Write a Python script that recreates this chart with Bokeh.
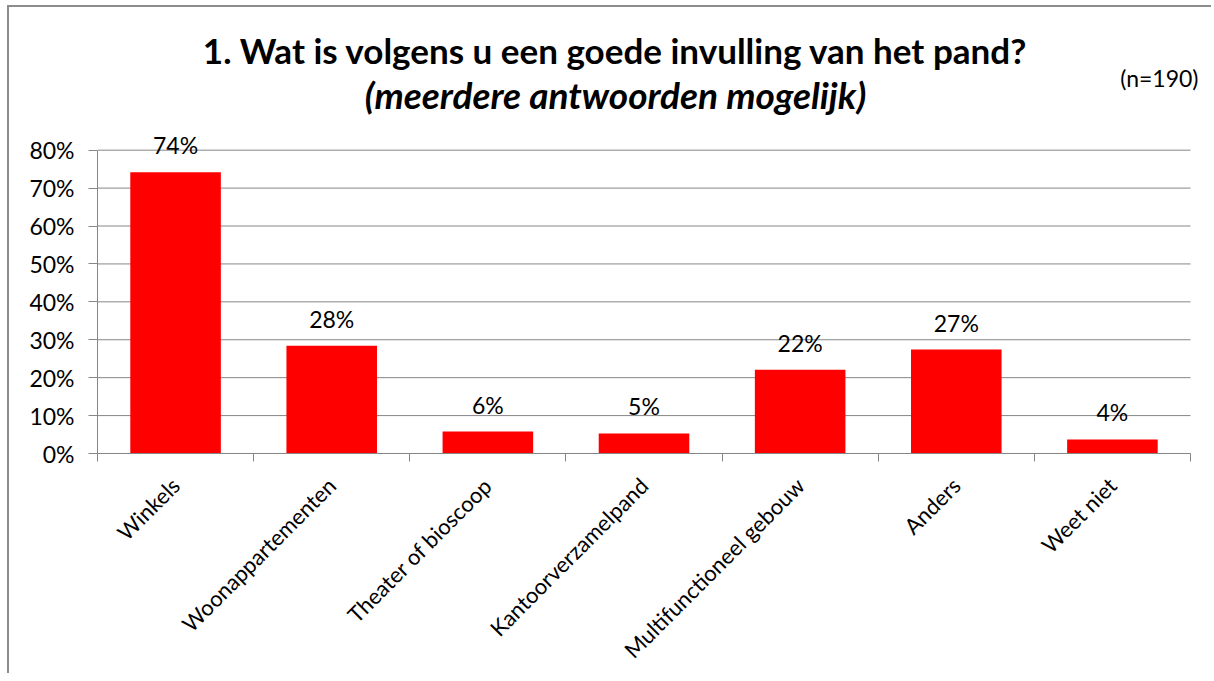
import math
from bokeh.plotting import figure
from bokeh.models import (Label, LabelSet, FixedTicker, NumeralTickFormatter,
                          Range1d, ColumnDataSource)
from bokeh.core.properties import value
from bokeh.embed import file_html
from bokeh.resources import INLINE

# ---- data ----
categories = ["Winkels", "Woonappartementen", "Theater of bioscoop",
              "Kantoorverzamelpand", "Multifunctioneel gebouw", "Anders", "Weet niet"]
values = [0.742, 0.284, 0.058, 0.053, 0.221, 0.274, 0.037]
value_labels = ["74%", "28%", "6%", "5%", "22%", "27%", "4%"]
y_ticks = [0.0, 0.1, 0.2, 0.3, 0.4, 0.5, 0.6, 0.7, 0.8]
title_line1 = "1. Wat is volgens u een goede invulling van het pand?"
title_line2 = "(meerdere antwoorden mogelijk)"
note_text = "(n=190)"

FONT = "Lato"
GRAY = "#868686"
W, H = 1204, 668
MB_LEFT, MB_RIGHT, MB_TOP, MB_BOTTOM = 88, 0, 0, 221

n = len(categories)
y_max = y_ticks[-1]
centers = [i + 0.5 for i in range(n)]
bounds = list(range(n + 1))

# frame geometry: axis area (0..n, 0..y_max) occupies 1093 x 304 px,
# frame extends beyond so that annotations (titles) are not clipped
frame_w = W - MB_LEFT - MB_RIGHT
frame_h = H - MB_TOP - MB_BOTTOM
AXIS_W_PX, AXIS_H_PX = 1093, 304
x_end = n * frame_w / AXIS_W_PX
y_end = y_max * frame_h / AXIS_H_PX

src = ColumnDataSource(dict(x=centers, top=values, lab=value_labels))
grid_src = ColumnDataSource(dict(y=y_ticks, x0=[0] * len(y_ticks), x1=[n] * len(y_ticks)))

p = figure(width=W, height=H, x_range=Range1d(0, x_end), y_range=Range1d(0, y_end),
           output_backend="svg", toolbar_location=None,
           min_border_left=MB_LEFT, min_border_right=MB_RIGHT, min_border_top=MB_TOP,
           min_border_bottom=MB_BOTTOM, margin=(5, 0, 0, 7))
p.styles = {"border-top": "2px solid #8c8c8c", "border-left": "2px solid #8c8c8c"}
p.outline_line_color = None
p.background_fill_color = "white"
p.border_fill_color = "white"
p.grid.visible = False

# gridlines (behind bars)
p.segment(x0="x0", y0="y", x1="x1", y1="y", source=grid_src,
          line_color=GRAY, line_width=1)

p.vbar(x="x", top="top", width=0.58, bottom=0, source=src,
       fill_color="#ff0000", line_color=None)

p.add_layout(LabelSet(x="x", y="top", text="lab", source=src, text_align="center",
                      text_baseline="alphabetic", y_offset=18,
                      text_font=value(FONT), text_font_size="23px",
                      text_color="black"))

# y axis
p.yaxis.ticker = FixedTicker(ticks=y_ticks)
p.yaxis.bounds = (0, y_max)
p.yaxis.formatter = NumeralTickFormatter(format="0%")
p.yaxis.major_tick_out = 9
p.yaxis.major_tick_in = 0
p.yaxis.minor_tick_out = 0
p.yaxis.minor_tick_in = 0
p.yaxis.axis_line_color = GRAY
p.yaxis.major_tick_line_color = GRAY
p.yaxis.major_label_text_font = FONT
p.yaxis.major_label_text_font_size = "23px"
p.yaxis.major_label_text_color = "black"
p.yaxis.major_label_standoff = 14

# x axis
p.xaxis.ticker = FixedTicker(ticks=centers, minor_ticks=bounds)
p.xaxis.bounds = (0, n)
p.xaxis.major_label_overrides = {c: name for c, name in zip(centers, categories)}
p.xaxis.major_tick_out = 0
p.xaxis.major_tick_in = 0
p.xaxis.minor_tick_out = 8
p.xaxis.minor_tick_in = 0
p.xaxis.minor_tick_line_color = GRAY
p.xaxis.axis_line_color = GRAY
p.xaxis.major_label_orientation = math.pi / 4
p.xaxis.major_label_text_font = FONT
p.xaxis.major_label_text_font_size = "22px"
p.xaxis.major_label_text_color = "black"
p.xaxis.major_label_standoff = 20

# titles (screen units are relative to the frame's bottom-left corner)
p.add_layout(Label(x=518, y=404, x_units="screen", y_units="screen",
                   text=title_line1, text_align="center", text_baseline="middle",
                   text_font=FONT, text_font_style="bold", text_font_size="35px",
                   text_color="black"))
p.add_layout(Label(x=518, y=359, x_units="screen", y_units="screen",
                   text=title_line2, text_align="center", text_baseline="middle",
                   text_font=FONT, text_font_style="bold italic", text_font_size="37px",
                   text_color="black"))
p.add_layout(Label(x=1101, y=376, x_units="screen", y_units="screen",
                   text=note_text, text_align="right", text_baseline="middle",
                   text_font=FONT, text_font_size="23px", text_color="black"))

open("out.html", "w").write(file_html(p, INLINE))
